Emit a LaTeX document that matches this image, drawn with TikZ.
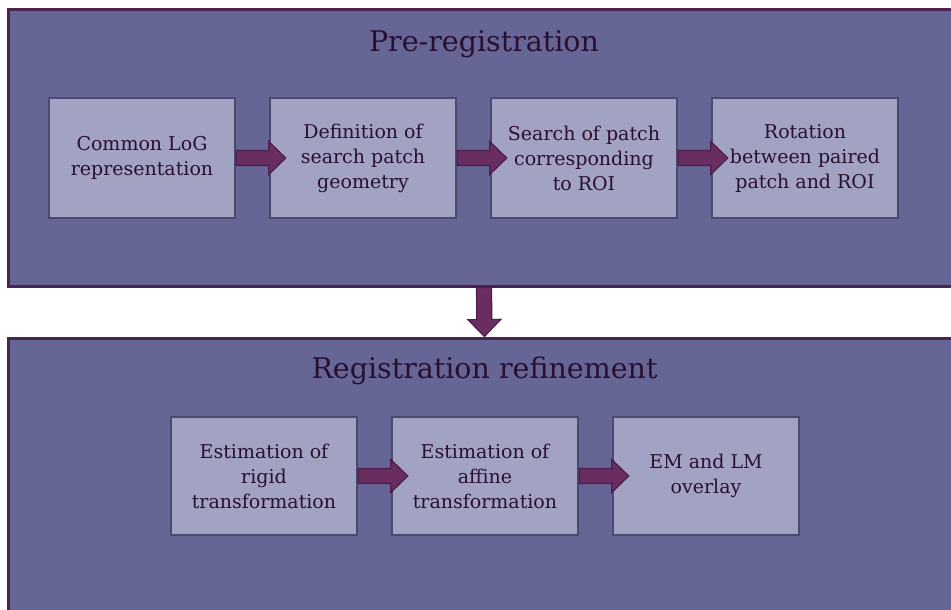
\documentclass[tikz,border=0pt]{standalone}
\usepackage{fontspec}
\setmainfont{DejaVu Serif}
\usepackage{tikz}
\usetikzlibrary{positioning,calc}

\definecolor{panelfill}{HTML}{656596}
\definecolor{paneldraw}{HTML}{4B2350}
\definecolor{boxfill}{HTML}{A2A2C2}
\definecolor{boxdraw}{HTML}{4A4A70}
\definecolor{arrowfill}{HTML}{6A2D60}
\definecolor{arrowdraw}{HTML}{4B1E4B}
\definecolor{textdark}{HTML}{2A1030}

\begin{document}
\begin{tikzpicture}[
    x=1pt, y=-1pt,
    node distance=32.5pt,
    panel/.style={rectangle, draw=paneldraw, fill=panelfill, line width=3pt, minimum width=952pt},
    ptitle/.style={font=\fontsize{28.5}{33}\selectfont, text=textdark, anchor=base},
    procbox/.style={rectangle, draw=boxdraw, fill=boxfill, line width=2.5pt, minimum width=186pt, minimum height=120pt, inner sep=1pt, align=center, text=textdark, font=\fontsize{19}{25}\selectfont},
    flow/.style={draw=arrowdraw, fill=arrowfill, line width=1.2pt, line join=miter,
        to path={let \p1=(\tikztostart), \p2=(\tikztotarget), \p3=($(\p2)!17pt!(\p1)$) in
        ($(\p1)!7.5pt!90:(\p2)$) -- ($(\p3)!7.5pt!-90:(\p1)$) -- ($(\p3)!16.5pt!-90:(\p1)$) -- (\p2)
        -- ($(\p3)!16.5pt!90:(\p1)$) -- ($(\p3)!7.5pt!90:(\p1)$) -- ($(\p1)!7.5pt!-90:(\p2)$) -- cycle}},
]
\useasboundingbox (0,0) rectangle (951,610);

% Panels
\node[panel, minimum height=276pt] (pre) at (484,148) {};
\node[panel, minimum height=284pt] (ref) at (484.5,480) {};
\node[ptitle] (pretitle) at ([yshift=-43pt]pre.north) {Pre-registration};
\node[ptitle] (reftitle) at ([yshift=-42pt]ref.north) {Registration refinement};

% Pre-registration steps
\node[procbox] (logrep) at (142,158) {Common LoG\\representation};
\node[procbox, right=of logrep] (patchgeo) {Definition of\\search patch\\geometry};
\node[procbox, right=of patchgeo] (patchsearch) {Search of patch\\corresponding\\to ROI};
\node[procbox, right=of patchsearch] (rotation) {Rotation\\between paired\\patch and ROI};

% Refinement steps
\node[procbox, minimum height=118pt] (rigid) at (264,476) {Estimation of\\rigid\\transformation};
\node[procbox, minimum height=118pt, right=of rigid] (affine) {Estimation of\\affine\\transformation};
\node[procbox, minimum height=118pt, right=of affine] (overlay) {EM and LM\\overlay};

% Arrows
\draw[flow] (logrep.east) to ([xshift=17pt]patchgeo.west);
\draw[flow] (patchgeo.east) to ([xshift=17pt]patchsearch.west);
\draw[flow] (patchsearch.east) to ([xshift=17pt]rotation.west);
\draw[flow] (pre.south) to (ref.north);
\draw[flow] (rigid.east) to ([xshift=17pt]affine.west);
\draw[flow] (affine.east) to ([xshift=17pt]overlay.west);

\end{tikzpicture}
\end{document}
